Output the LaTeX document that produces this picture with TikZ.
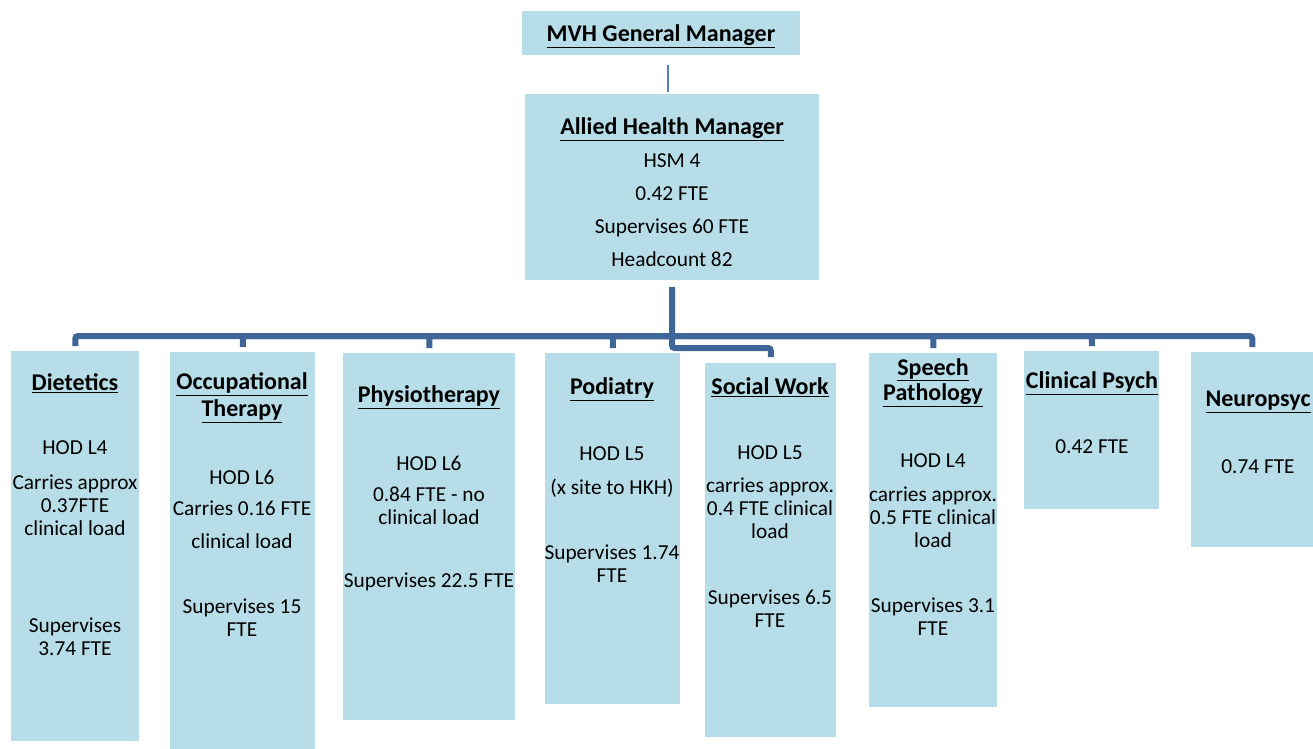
\documentclass[tikz,border=0pt]{standalone}
\usepackage{fontspec}
\setmainfont{Carlito}
\definecolor{unitfill}{HTML}{B7DEE8}
\definecolor{busblue}{HTML}{3E6699}
\definecolor{gmblue}{HTML}{4F81BD}
\newcommand{\bodyfont}{\fontsize{16}{17.25}\selectfont}
\newcommand{\headfont}{\fontsize{18}{20}\selectfont\bfseries}
\newcommand{\ul}[1]{\underline{#1}}
\begin{document}
\begin{tikzpicture}[x = .75pt, y = -.75pt,
    unit/.style = {fill = unitfill, inner sep = 0pt, anchor = north west},
    txt/.style = {inner sep = 0pt, align = center, font = \bodyfont},
    head/.style = {inner sep = 0pt, align = center, font = \headfont},
    bus/.style = {draw = busblue, line width = 4.5pt, rounded corners = 2pt}]
  \useasboundingbox (0,0) rectangle (1313,749);

  % managers
  \node [unit, minimum width = 208.5pt, minimum height = 33pt] (mvh) at (522,11) {};
  \node [unit, minimum width = 220.5pt, minimum height = 139.5pt] (ahm) at (525,94) {};
  \node [head] (mvh-t) at (661,36) {\ul{MVH General Manager}};
  \node [head] (ahm-t) at (672,129) {\ul{Allied Health Manager}};
  \node [txt, font = \fontsize{16}{24.75}\selectfont] (ahm-b) at (672,210.5)
    {HSM 4\\0.42 FTE\\Supervises 60 FTE\\Headcount 82};
  \coordinate (gm-line) at (668,0);
  \draw [gmblue, line width = 1.5pt, shorten < = 6.75pt, shorten > = 1.5pt]
    (mvh.south -| gm-line) -- (ahm.north -| gm-line);

  % departments
  \node [unit, minimum width = 96pt, minimum height = 292.5pt] (diet) at (11,351) {};
  \node [unit, minimum width = 108.75pt, minimum height = 297.75pt] (ot) at (170,352) {};
  \node [unit, minimum width = 129pt, minimum height = 275.25pt] (physio) at (343,353) {};
  \node [unit, minimum width = 101.25pt, minimum height = 263.25pt] (pod) at (545,353) {};
  \node [unit, minimum width = 98.25pt, minimum height = 280.5pt] (sw) at (705,363) {};
  \node [unit, minimum width = 96pt, minimum height = 265.5pt] (speech) at (869,353) {};
  \node [unit, minimum width = 101.25pt, minimum height = 118.5pt] (cpsych) at (1024,351) {};
  \node [unit, minimum width = 91.5pt, minimum height = 146.25pt] (npsych) at (1191,352) {};

  % reporting lines
  \coordinate (hub) at (672,336);
  \coordinate (swhub) at (672,348);
  \draw [bus, shorten < = 5pt] (ahm.south) -- (hub);
  \foreach \dept in {diet, ot, physio, pod, speech, cpsych, npsych}
    \draw [bus, shorten > = 3.75pt] (hub) -| (\dept.north);
  \draw [bus, shorten > = 4.5pt] (hub) -- (swhub) -| (sw.north);

  % Dietetics
  \node [head] (diet-t) at (75,383) {\ul{Dietetics}};
  \node [txt] (diet-h) at (75,448) {HOD L4};
  \node [txt] (diet-l) at (75,505) {Carries approx\\0.37FTE\\clinical load};
  \node [txt] (diet-s) at (75,637) {Supervises\\3.74 FTE};

  % Occupational Therapy
  \node [head, font = \fontsize{18}{20.25}\selectfont\bfseries] (ot-t) at (242,397.5)
    {\ul{Occupational}\\\ul{Therapy}};
  \node [txt] (ot-h) at (242,477) {HOD L6};
  \node [txt] (ot-l) at (242,508) {Carries 0.16 FTE};
  \node [txt] (ot-c) at (242,541) {clinical load};
  \node [txt] (ot-s) at (242,617.5) {Supervises 15\\FTE};

  % Physiotherapy
  \node [head] (physio-t) at (429,397) {\ul{Physiotherapy}};
  \node [txt] (physio-h) at (429,463) {HOD L6};
  \node [txt] (physio-l) at (429,505.5) {0.84 FTE - no\\clinical load};
  \node [txt] (physio-s) at (429,582) {Supervises 22.5 FTE};

  % Podiatry
  \node [head] (pod-t) at (612,389) {\ul{Podiatry}};
  \node [txt] (pod-h) at (612,454) {HOD L5};
  \node [txt] (pod-x) at (612,488) {(x site to HKH)};
  \node [txt] (pod-s) at (612,563.5) {Supervises 1.74\\FTE};

  % Social Work
  \node [head] (sw-t) at (770,387) {\ul{Social Work}};
  \node [txt] (sw-h) at (770,453) {HOD L5};
  \node [txt] (sw-l) at (770,508.5) {carries approx.\\0.4 FTE clinical\\load};
  \node [txt] (sw-s) at (770,609) {Supervises 6.5\\FTE};

  % Speech Pathology
  \node [head, font = \fontsize{18}{18.75}\selectfont\bfseries] (speech-t) at (933,382.5)
    {\ul{Speech}\\\ul{Pathology}};
  \node [txt] (speech-h) at (933,461) {HOD L4};
  \node [txt] (speech-l) at (933,517) {carries approx.\\0.5 FTE clinical\\load};
  \node [txt] (speech-s) at (933,616.5) {Supervises 3.1\\FTE};

  % Clinical Psych and Neuropsyc
  \node [head] (cpsych-t) at (1092,383) {\ul{Clinical Psych}};
  \node [txt] (cpsych-f) at (1092,447) {0.42 FTE};
  \node [head] (npsych-t) at (1258,402) {\ul{Neuropsyc}};
  \node [txt] (npsych-f) at (1258,467) {0.74 FTE};
\end{tikzpicture}
\end{document}
